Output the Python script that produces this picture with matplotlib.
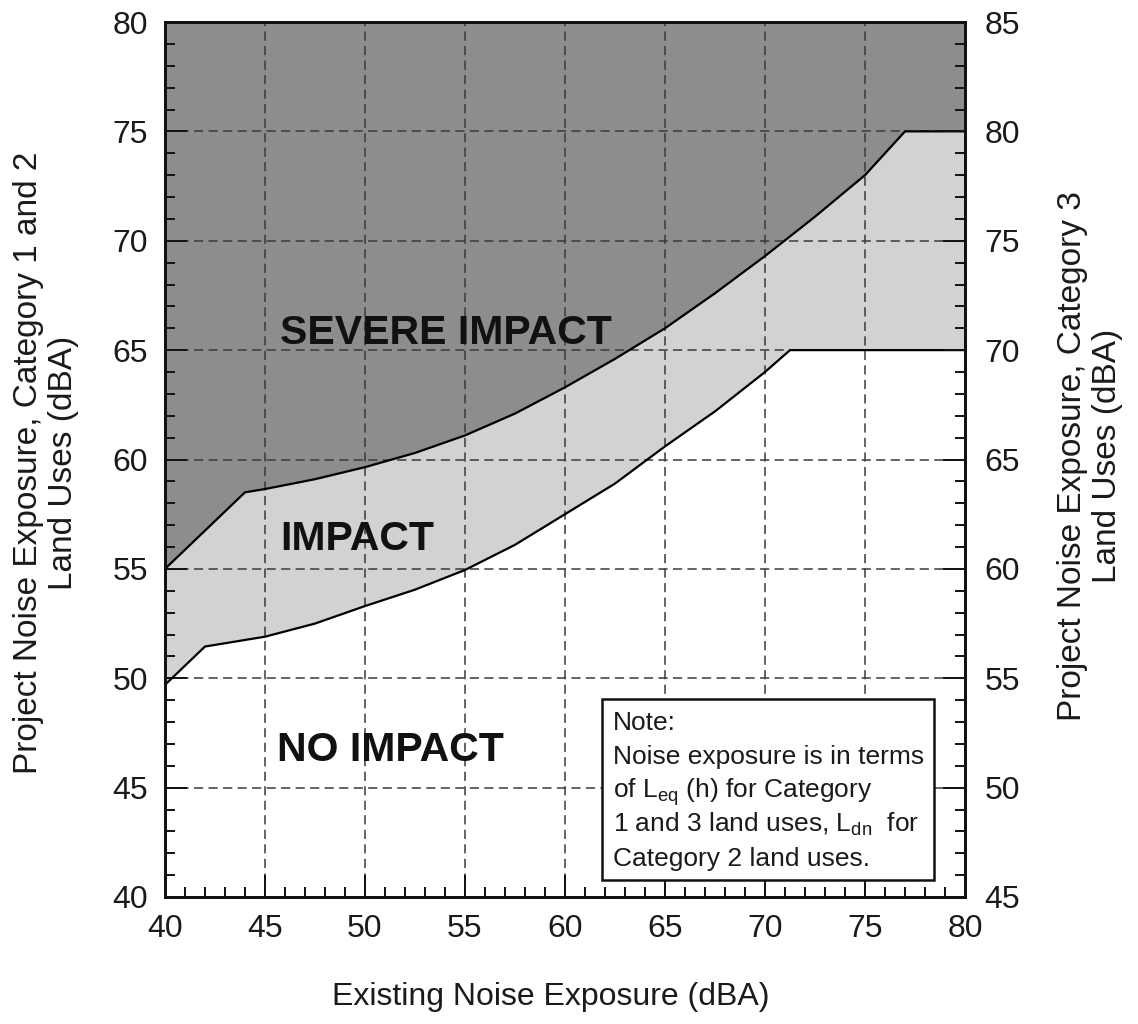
import matplotlib
matplotlib.use("Agg")
import matplotlib.pyplot as plt
from matplotlib.ticker import MultipleLocator
from matplotlib.patches import Rectangle

plt.rcParams['font.family'] = ['Liberation Sans', 'DejaVu Sans']
plt.rcParams['mathtext.fontset'] = 'custom'
plt.rcParams['mathtext.rm'] = 'Liberation Sans'
plt.rcParams['mathtext.it'] = 'Liberation Sans:italic'

# ---- data ----
severe_x = [40, 44, 45, 47.5, 50, 52.5, 55, 57.5, 60, 62.5, 65, 67.5, 70, 72.5, 75, 77, 80]
severe_y = [55, 58.5, 58.65, 59.1, 59.65, 60.3, 61.1, 62.1, 63.3, 64.6, 66.0, 67.6, 69.3, 71.1, 73.0, 75, 75]

impact_x = [40, 42, 45, 47.5, 50, 52.5, 55, 57.5, 60, 62.5, 65, 67.5, 70, 71.25, 80]
impact_y = [49.7, 51.45, 51.9, 52.5, 53.3, 54.05, 54.95, 56.1, 57.5, 58.9, 60.6, 62.2, 64.0, 65, 65]

x_ticks = [40, 45, 50, 55, 60, 65, 70, 75, 80]
left_ticks = [40, 45, 50, 55, 60, 65, 70, 75, 80]
right_ticks = [45, 50, 55, 60, 65, 70, 75, 80, 85]

region_labels = ["SEVERE IMPACT", "IMPACT", "NO IMPACT"]
region_pos = [(45.75, 65.3), (45.75, 55.85), (45.6, 46.2)]

note_lines = ["Note:",
              "Noise exposure is in terms",
              r"of L$_{\mathrm{eq}}$ (h) for Category",
              r"1 and 3 land uses, L$_{\mathrm{dn}}$  for",
              "Category 2 land uses."]

W, H = 1138, 1024
fig = plt.figure(figsize=(W / 100, H / 100), dpi=100)
ax = fig.add_axes([165 / W, 1 - 897 / H, 800 / W, 875 / H])

SEV_COL = '#8d8d8d'
IMP_COL = '#d2d2d2'

ax.fill_between(impact_x, impact_y, 80, color=IMP_COL, zorder=0.1, lw=0)
ax.fill_between(severe_x, severe_y, 80, color=SEV_COL, zorder=0.2, lw=0)
ax.plot(severe_x, severe_y, color='black', lw=1.6, zorder=3, solid_joinstyle='round')
ax.plot(impact_x, impact_y, color='black', lw=1.6, zorder=3, solid_joinstyle='round')

ax.set_xlim(40, 80)
ax.set_ylim(40, 80)
ax.set_xticks(x_ticks)
ax.set_yticks(left_ticks)
ax.xaxis.set_minor_locator(MultipleLocator(1))
ax.yaxis.set_minor_locator(MultipleLocator(1))
ax.set_axisbelow(True)
ax.grid(True, which='major', color='#3a3a3a', lw=1.1, linestyle=(0, (6, 3.5)))

ax.tick_params(which='both', direction='in', top=False, right=False, colors='#111111',
               labelcolor='#1a1a1a', labelsize=23)
ax.tick_params(which='major', length=16, width=1.4)
ax.tick_params(which='minor', length=7, width=1.4)
ax.tick_params(axis='x', pad=12)
ax.tick_params(axis='y', pad=12)

for s in ax.spines.values():
    s.set_linewidth(2.0)
    s.set_color('#111111')

ax2 = ax.twinx()
ax2.set_ylim(45, 85)
ax2.set_yticks(right_ticks)
ax2.yaxis.set_minor_locator(MultipleLocator(1))
ax2.tick_params(which='both', direction='in', colors='#111111', labelcolor='#1a1a1a', labelsize=23, pad=14)
ax2.tick_params(which='major', length=16, width=1.4)
ax2.tick_params(which='minor', length=7, width=1.4)
for s in ax2.spines.values():
    s.set_linewidth(2.0)
    s.set_color('#111111')

for lab, (lx, ly) in zip(region_labels, region_pos):
    ax.text(lx, ly, lab, fontsize=29.5, fontweight='bold', color='#111111',
            ha='left', va='baseline', zorder=4)

# axis labels
fig.text(551 / W, 1 - 997 / H, "Existing Noise Exposure (dBA)", fontsize=23,
         ha='center', va='center', color='#1a1a1a')
fig.text(46 / W, 1 - 463 / H, "Project Noise Exposure, Category 1 and 2\nLand Uses (dBA)",
         fontsize=24, rotation=90, ha='center', va='center', multialignment='center',
         color='#1a1a1a', linespacing=1.2)
fig.text(1090 / W, 1 - 456 / H, "Project Noise Exposure, Category 3\nLand Uses (dBA)",
         fontsize=24, rotation=90, ha='center', va='center', multialignment='center',
         color='#1a1a1a', linespacing=1.2)

# note box
fig.patches.append(Rectangle((602 / W, 1 - 880 / H), (934 - 602) / W, (880 - 699) / H,
                             transform=fig.transFigure, facecolor='white',
                             edgecolor='#111111', lw=1.8, zorder=5))
baselines = [730, 764, 798, 832, 866]
for line, b in zip(note_lines, baselines):
    fig.text(613 / W, 1 - b / H, line, fontsize=19, ha='left', va='baseline',
             color='#1a1a1a', zorder=6)

fig.savefig("out.png", dpi=100)
